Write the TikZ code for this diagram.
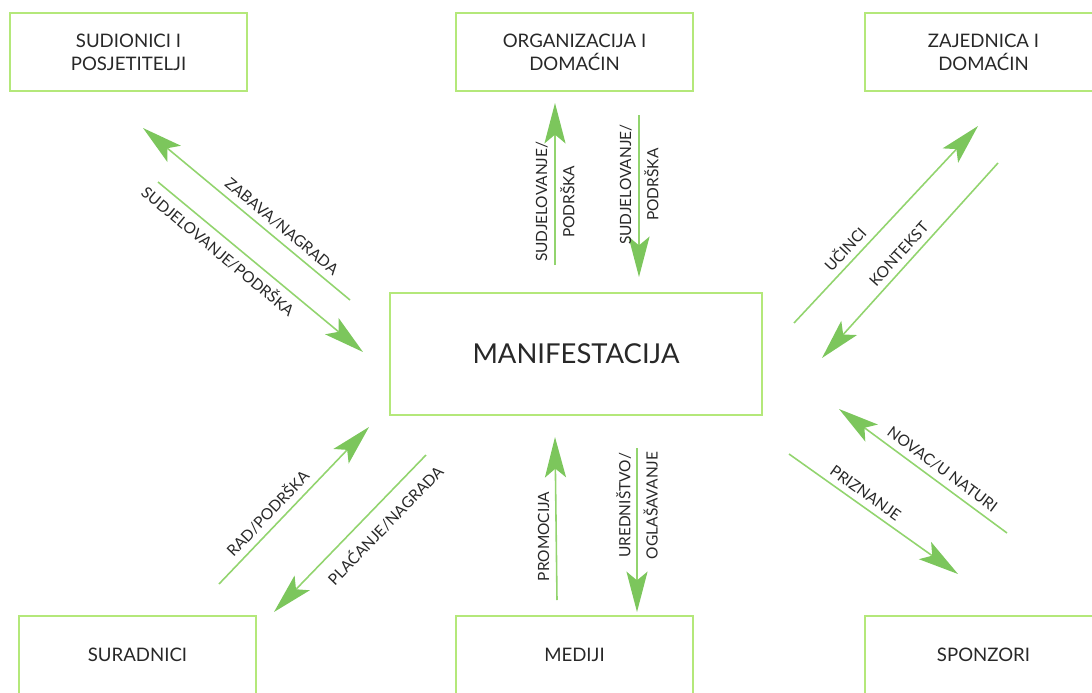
\documentclass[tikz,border=0pt]{standalone}
\usepackage{fontspec}
\setmainfont{Lato}
\usetikzlibrary{arrows.meta}
\definecolor{boxgreen}{RGB}{180,232,122}
\definecolor{linegreen}{RGB}{146,212,110}
\definecolor{headgreen}{RGB}{124,198,92}
\definecolor{txtgray}{RGB}{40,40,40}

\begin{document}
\begin{tikzpicture}[x=0.02cm,y=-0.02cm]
\tikzset{party/.style = {shape=rectangle,draw=boxgreen,line width=1.4pt,minimum width=4.74cm,minimum height=1.56cm,align=center,text=txtgray,font=\fontsize{10.6}{13}\selectfont}}
\tikzset{flow/.style = {draw=linegreen,line width=0.9pt,-{Stealth[length=23pt,width=12pt,inset=5pt,color=headgreen,fill=headgreen]}}}
\tikzset{lbl/.style = {sloped,text=txtgray,inner sep=3.5pt,align=center,font=\fontsize{8.8}{15.5}\selectfont}}
\tikzset{vlbl/.style = {rotate=90,text=txtgray,inner sep=3.5pt,align=center,font=\fontsize{8.8}{15.5}\selectfont}}
\useasboundingbox (0,0) rectangle (1092,693);
\clip (0,0) rectangle (1092,693);

% vertices
\node[party] (sud) at (128.5,52) {SUDIONICI I\\POSJETITELJI};
\node[party] (org) at (574.5,52) {ORGANIZACIJA I\\DOMAĆIN};
\node[party] (zaj) at (983.5,52) {ZAJEDNICA I\\DOMAĆIN};
\node[party,minimum width=7.44cm,minimum height=2.44cm,font=\fontsize{15.6}{18}\selectfont] (man) at (576,354) {MANIFESTACIJA};
\node[party] (sur) at (137.5,655) {SURADNICI};
\node[party] (med) at (574.5,655) {MEDIJI};
\node[party] (spo) at (983.5,655) {SPONZORI};

% ends of the edges
\coordinate (zab0) at (350,300);  \coordinate (zab1) at (143,128);
\coordinate (sud0) at (158,182);  \coordinate (sud1) at (363,352);
\coordinate (orgA0) at (555,265); \coordinate (orgA1) at (555,103);
\coordinate (orgB0) at (639,115); \coordinate (orgB1) at (639,277);
\coordinate (uci0) at (794,323);  \coordinate (uci1) at (978,126);
\coordinate (kon0) at (998,163);  \coordinate (kon1) at (822,358);
\coordinate (rad0) at (219,584);  \coordinate (rad1) at (369,427);
\coordinate (pla0) at (426,455);  \coordinate (pla1) at (274,612);
\coordinate (pro0) at (557,600);  \coordinate (pro1) at (555,437);
\coordinate (ure0) at (637,448);  \coordinate (ure1) at (637,612);
\coordinate (nov0) at (1007,533); \coordinate (nov1) at (839,409);
\coordinate (pri0) at (789,454);  \coordinate (pri1) at (958,574);

%edges
\draw[flow] (zab0) -- node[lbl,above,pos=.37] {ZABAVA/NAGRADA} (zab1);
\draw[flow] (sud0) -- node[lbl,below,pos=.34] {SUDJELOVANJE/PODRŠKA} (sud1);
\draw[flow] (orgA0) -- node[vlbl,pos=.39] {SUDJELOVANJE/\\PODRŠKA} (orgA1);
\draw[flow] (orgB0) -- node[vlbl,pos=.43] {SUDJELOVANJE/\\PODRŠKA} (orgB1);
\draw[flow] (uci0) -- node[lbl,above,pos=.33] {UČINCI} (uci1);
\draw[flow] (kon0) -- node[lbl,above,pos=.51] {KONTEKST} (kon1);
\draw[flow] (rad0) -- node[lbl,above,pos=.39] {RAD/PODRŠKA} (rad1);
\draw[flow] (pla0) -- node[lbl,below,pos=.36,inner sep=6pt] {PLAĆANJE/NAGRADA} (pla1);
\draw[flow] (pro0) -- node[vlbl,above,pos=.39] {PROMOCIJA} (pro1);
\draw[flow] (ure0) -- node[vlbl,pos=.35] {UREDNIŠTVO/\\OGLAŠAVANJE} (ure1);
\draw[flow] (nov0) -- node[lbl,above,pos=.43] {NOVAC/U NATURI} (nov1);
\draw[flow] (pri0) -- node[lbl,above,pos=.41] {PRIZNANJE} (pri1);

\end{tikzpicture}
\end{document}
